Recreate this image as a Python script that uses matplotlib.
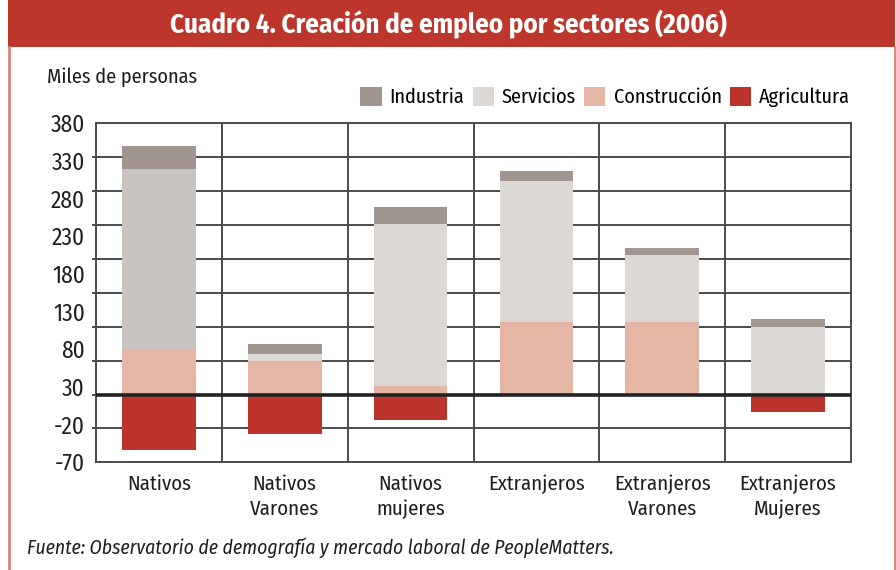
import numpy as np
import matplotlib
matplotlib.use("Agg")
import matplotlib.pyplot as plt
from matplotlib.patches import Patch, Rectangle
from matplotlib.lines import Line2D
from matplotlib import font_manager as fm

available = {f.name for f in fm.fontManager.ttflist}
preferred = ['Fira Sans Condensed', 'Ubuntu Condensed', 'Roboto Condensed',
             'IBM Plex Sans Condensed', 'Liberation Sans Narrow', 'DejaVu Sans']
font_main = next(f for f in preferred if f in available)
plt.rcParams['font.family'] = [font_main, 'DejaVu Sans']

# ---- data ----
categories = ["Nativos", "Nativos\nVarones", "Nativos\nmujeres",
              "Extranjeros", "Extranjeros\nVarones", "Extranjeros\nMujeres"]
agricultura = [-82, -58, -38, 0, 0, -26]
construccion = [66, 49, 12, 107, 107, 0]
servicios = [267, 10, 239, 208, 99, 99]
industria = [33, 15, 25, 15, 10, 13]

series_names = ["Industria", "Servicios", "Construcción", "Agricultura"]
ytick_labels = ["-70", "-20", "30", "80", "130", "180", "230", "280", "330", "380"]
grid_values = [-100, -50, 0, 50, 100, 150, 200, 250, 300, 350, 400]

title = "Cuadro 4. Creación de empleo por sectores (2006)"
ylabel = "Miles de personas"
source = "Fuente: Observatorio de demografía y mercado laboral de PeopleMatters."

# ---- style ----
c_ind = "#A0968F"
c_serv = ["#C9C4C0", "#DBD8D5", "#DBD8D5", "#DBD8D5", "#DBD8D5", "#DBD8D5"]
c_con = "#E5B5A5"
c_agr = "#BB332B"
grid_c = "#4a4a4a"
txt_c = "#1e1e1e"

W, H = 896, 570
fig = plt.figure(figsize=(W / 100, H / 100), dpi=100)
renderer = fig.canvas.get_renderer()


def fit_width(t, target_px):
    w = t.get_window_extent(renderer=renderer).width
    t.set_fontsize(t.get_fontsize() * target_px / w)
    return t.get_fontsize()


# banner and border
fig.patches.append(Rectangle((8 / W, 1 - 47 / H), (895 - 8) / W, 47 / H,
                             transform=fig.transFigure, facecolor="#BD362B",
                             edgecolor="none", zorder=0))
fig.lines.append(Line2D([9 / W, 9 / W], [0, 1 - 47 / H], transform=fig.transFigure,
                        color="#D9837C", lw=2))
fig.lines.append(Line2D([894.5 / W, 894.5 / W], [0, 1 - 47 / H], transform=fig.transFigure,
                        color="#D9837C", lw=2))
t_title = fig.text(0.5, 1 - 24 / H, title, color="white", fontsize=20, fontweight="bold",
                   ha="center", va="center")
fit_width(t_title, 558)

t_ylab = fig.text(47 / W, 1 - 77 / H, ylabel, fontsize=14, va="center", color=txt_c)
fs = fit_width(t_ylab, 151)

t_src = fig.text(27 / W, 1 - 548 / H, source, fontsize=13.5, style="italic",
                 va="center", color=txt_c)
fit_width(t_src, 589)

left, right, top, bottom = 96 / W, 851 / W, 1 - 123.3 / H, 1 - 462.3 / H
ax = fig.add_axes([left, bottom, right - left, top - bottom])

x = np.arange(len(categories))
bw = 0.585
con = np.array(construccion)
srv = np.array(servicios)
ax.bar(x, agricultura, bw, color=c_agr, zorder=2)
ax.bar(x, construccion, bw, color=c_con, zorder=2)
ax.bar(x, servicios, bw, bottom=con, color=c_serv, zorder=2)
ax.bar(x, industria, bw, bottom=con + srv, color=c_ind, zorder=2)

ax.axhline(0, color="#222222", lw=2.6, zorder=3)

ax.set_xlim(-0.5, len(categories) - 0.5)
ax.set_ylim(grid_values[0], grid_values[-1])

ax.set_yticks(np.linspace(grid_values[0], grid_values[-1], len(ytick_labels)))
ax.set_yticklabels(ytick_labels, fontsize=fs * 1.15)
ax.set_yticks(grid_values, minor=True)
ax.set_xticks(x)
ax.set_xticklabels(categories, fontsize=fs * 1.03, linespacing=1.35)
ax.set_xticks(np.arange(0.5, len(categories) - 0.5, 1), minor=True)

ax.tick_params(axis="both", which="major", length=0, colors=txt_c)
ax.tick_params(axis="y", which="major", pad=8)
ax.tick_params(axis="x", which="major", pad=9)
ax.tick_params(axis="y", which="minor", length=3, width=1.4, color=grid_c)
ax.tick_params(axis="x", which="minor", length=0)
ax.grid(which="minor", axis="both", color=grid_c, lw=1.4, zorder=1)
ax.set_axisbelow(True)
for s in ax.spines.values():
    s.set_color(grid_c)
    s.set_linewidth(1.4)

handles = [Patch(facecolor=c) for c in [c_ind, "#DBD8D5", c_con, c_agr]]
fig.legend(handles, series_names, ncol=4, loc="center right",
           bbox_to_anchor=(850 / W, 1 - 97 / H), frameon=False, fontsize=fs,
           handlelength=1.05, handleheight=1.05, handletextpad=0.4,
           columnspacing=0.4, borderaxespad=0, borderpad=0)

fig.savefig("out.png", dpi=100)
